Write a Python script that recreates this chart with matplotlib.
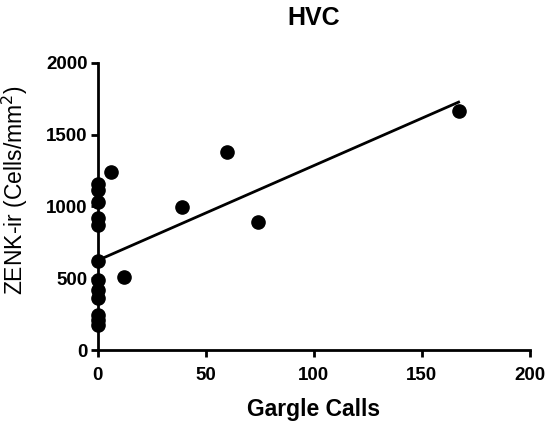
import matplotlib.pyplot as plt
import numpy as np

plt.rcParams['font.family'] = ['Liberation Sans', 'DejaVu Sans']

# gargle calls vs ZENK-ir density
calls = [0, 0, 0, 0, 0, 0, 0, 0, 0, 0, 0, 0, 6, 12, 39, 60, 74, 167]
zenk = [1159, 1117, 1031, 920, 869, 621, 491, 417, 359, 243, 209, 174,
        1237, 507, 994, 1383, 890, 1668]

# linear regression line as drawn in the figure
fit_intercept = 625
fit_slope = 6.6

x = np.array(calls, dtype=float)
y = np.array(zenk, dtype=float)
xfit = np.array([x.min(), x.max()])

fig = plt.figure(figsize=(5.56, 4.24), dpi=100)
ax = fig.add_axes([0.176, 0.1745, 0.777, 0.677])

ax.plot(xfit, fit_intercept + fit_slope * xfit, 'k', linewidth=2)
ax.plot(x, y, 'o', color='k', markersize=9.5, clip_on=False, zorder=3)

ax.set_xlim(0, 200)
ax.set_ylim(0, 2000)
ax.set_xticks([0, 50, 100, 150, 200])
ax.set_yticks([0, 500, 1000, 1500, 2000])
for s in ['top', 'right']:
    ax.spines[s].set_visible(False)
for s in ['left', 'bottom']:
    ax.spines[s].set_linewidth(2)
ax.tick_params(width=2, length=5, labelsize=13.5)
ax.tick_params(axis='y', pad=2.5)
ax.tick_params(axis='x', pad=7)
for lab in ax.get_xticklabels() + ax.get_yticklabels():
    lab.set_fontweight('bold')

ax.set_xlabel('Gargle Calls', fontsize=16.5, fontweight='bold', labelpad=10)
ax.set_ylabel('ZENK-ir (Cells/mm$^2$)', fontsize=16.5)
ax.yaxis.set_label_coords(-0.158, 0.557)
ax.set_title('HVC', fontsize=18, fontweight='bold', pad=27)

fig.savefig('out.png', dpi=100)
